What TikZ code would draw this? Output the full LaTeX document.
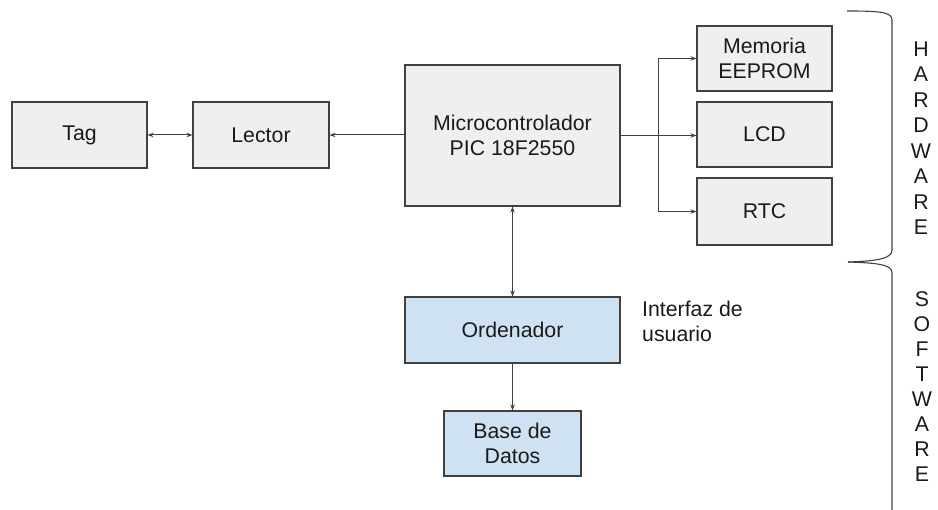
\documentclass[tikz,border=0pt]{standalone}
\usepackage{fontspec}
\setmainfont{Liberation Sans}
\usetikzlibrary{arrows.meta}
\definecolor{boxgray}{HTML}{EFEFEF}
\definecolor{boxblue}{HTML}{CFE2F3}
\definecolor{linec}{HTML}{404040}
\definecolor{textc}{HTML}{1A1A1A}
\begin{document}
\begin{tikzpicture}[x=1pt,y=-1pt,
  every node/.style={font=\fontsize{21.3}{24.5}\selectfont, text=textc},
  blk/.style={draw=linec, line width=1.1pt, fill=boxgray, align=center, inner sep=0pt, minimum width=#1},
  blkb/.style={draw=linec, line width=1.1pt, fill=boxblue, align=center, inner sep=0pt, minimum width=#1},
  conn/.style={draw=linec, line width=1pt},
  arr/.style={conn, -{Stealth[length=6pt,width=4.5pt]}},
  barr/.style={conn, {Stealth[length=6pt,width=4.5pt]}-{Stealth[length=6pt,width=4.5pt]}},
  brace/.style={draw=linec, line width=1.1pt}
]
\useasboundingbox (0,0) rectangle (938,510);
% boxes
\node[blk=135pt, minimum height=66pt] (tag) at (79.5,135) {Tag};
\node[blk=136pt, minimum height=66pt] (lector) at (261,135) {Lector};
\node[blk=215pt, minimum height=141pt] (mc) at (512.5,135.5) {Microcontrolador\\PIC 18F2550};
\node[blk=135pt, minimum height=65pt] (mem) at (764.5,58.5) {Memoria\\EEPROM};
\node[blk=135pt, minimum height=65pt] (lcd) at (764.5,134.5) {LCD};
\node[blk=135pt, minimum height=67pt] (rtc) at (764.5,211.5) {RTC};
\node[blkb=215pt, minimum height=66pt] (ord) at (512.5,330) {Ordenador};
\node[blkb=137pt, minimum height=65pt] (base) at (512.5,443.5) {Base de\\Datos};
\node[anchor=north west, align=left, inner sep=0pt] (ui) at (642,301) {Interfaz de\\usuario};
% connectors
\draw[barr] (tag.east) -- (lector.west);
\draw[arr] (mc.west |- lector.east) -- (lector.east);
\coordinate (split) at (658,135.5);
\draw[conn] (mc.east) -- (split);
\draw[arr] (split) |- (mem.west);
\draw[arr] (split) -- (lcd.west |- split);
\draw[arr] (split) |- (rtc.west);
\draw[barr] (mc.south) -- (ord.north);
\draw[arr] (ord.south) -- (base.north);
% braces
\coordinate (hwtop) at (847,11);
\coordinate (mid) at (848,262);
\coordinate (swend) at (892,510);
\draw[brace] (hwtop) .. controls (880,11) and (892,12) .. (892,20)
  -- (892,250) .. controls (892,258) and (880,261) .. (mid);
\draw[brace] (mid) .. controls (880,263) and (892,265) .. (892,273) -- (swend);
% labels
\node[align=center, inner sep=0pt, font=\fontsize{21.3}{25.5}\selectfont] (hw) at (921,138) {H\\A\\R\\D\\W\\A\\R\\E};
\node[align=center, inner sep=0pt, font=\fontsize{21.3}{25}\selectfont] (sw) at (922,387) {S\\O\\F\\T\\W\\A\\R\\E};
\end{tikzpicture}
\end{document}
